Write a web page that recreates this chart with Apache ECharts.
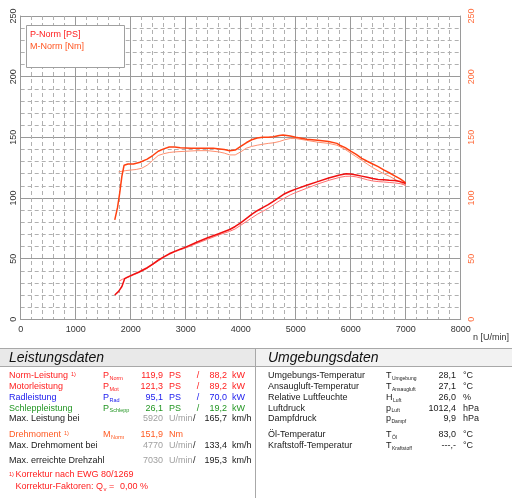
<!DOCTYPE html>
<html><head><meta charset="utf-8">
<script src="https://cdn.jsdelivr.net/npm/echarts@6/dist/echarts.min.js"></script>
<style>html,body{margin:0;padding:0;background:#fff}#c{width:512px;height:498px}</style>
</head><body><div id="c"></div>
<script>
// ---- chart data ----
var xTicks = [0,1000,2000,3000,4000,5000,6000,7000,8000];
var yTicks = [0,50,100,150,200,250];

var rpmTorqueMain = [1710,1760,1800,1840,1880,1950,2050,2170,2300,2400,2500,2600,2700,2800,2900,3100,3300,3500,3700,3800,3900,4000,4100,4200,4300,4400,4500,4600,4700,4770,4900,5000,5200,5400,5600,5750,5800,5900,6000,6100,6200,6300,6400,6500,6600,6700,6800,6900,7000];
var torqueMain    = [82,92,104,118,127,128,128,129.5,132,135,138.5,140.5,142,142,141.5,141,141,141,140,139,139.5,142.5,145.5,148,149.5,150,150,150.5,151.5,151.9,151,150,148.5,147.5,146.5,145,143.5,141.5,138.7,136,132.7,130.3,128,125.8,123.2,120.8,118.2,115.7,112.5];

var rpmTorqueThin = [1780,1900,2000,2100,2200,2300,2400,2500,2600,2700,2800,3000,3200,3400,3600,3700,3800,3900,4000,4100,4200,4300,4400,4500,4600,4700,4800,4900,5000,5200,5400,5600,5750,5900,6000,6100,6200,6300,6400,6500,6600,6700,6800,6900,7000];
var torqueThin    = [121.5,122.5,123,123.5,124.5,127,131,135,136.5,137.5,138,138.5,139,139,138,137,135.5,135.5,138,141,142.5,143.5,144.3,145,145.5,146.5,148,149,149,147.5,146,145,143.5,140,137,134,131,128,125,122.5,120,118,115.5,113,110];

var rpmPowerMain = [1710,1780,1840,1890,1950,2050,2150,2300,2400,2500,2600,2700,2800,2900,3000,3200,3400,3600,3800,3900,4000,4100,4200,4300,4400,4500,4600,4700,4800,4900,5000,5200,5400,5600,5800,5920,6000,6100,6200,6300,6400,6500,6600,6700,6800,6900,7000];
var powerMain    = [20,23,27,33.5,35,37,39,42.5,45.5,48.8,51.5,54,56,57.8,59.5,63.5,67.2,70.5,74,76.5,79.5,83,86.5,89.5,92,94.5,97.5,100.5,103.5,105.5,107.3,110.5,113.5,116.5,119,119.9,119.8,119,118,117,116,115.3,115,114.6,114.4,113.5,112];

var rpmPowerThin = [1790,1850,1950,2050,2150,2300,2400,2500,2600,2700,2800,2900,3000,3200,3400,3600,3800,3900,4000,4100,4200,4300,4400,4500,4600,4700,4800,4900,5000,5200,5400,5600,5800,5900,6000,6100,6200,6300,6400,6500,6600,6700,6800,6900,7000];
var powerThin    = [31.5,33,34.5,36.5,38.5,42,45,48,51,53.5,55.5,57.3,58.8,62.5,66,69.5,72.5,74.5,77.5,80.5,83.5,86.5,89,91.5,94.5,97.5,100,102.5,104.5,108,111.5,114.5,117,117.8,118,117.4,116.3,115,114,113.5,113.2,112.8,112.4,111.8,110.5];

var legendLabels = ['P-Norm [PS]','M-Norm [Nm]'];
var xAxisName = 'n [U/min]';

// ---- table data ----
var leistungTitle = 'Leistungsdaten';
var umgebungTitle = 'Umgebungsdaten';
var leistungLabels = ['Norm-Leistung','Motorleistung','Radleistung','Schleppleistung'];
var leistungSym = ['P','P','P','P'];
var leistungSub = ['Norm','Mot','Rad','Schlepp'];
var leistungPS = ['119,9','121,3','95,1','26,1'];
var leistungKW = ['88,2','89,2','70,0','19,2'];
var maxRows = ['Max. Leistung bei','Max. Drehmoment bei','Max. erreichte Drehzahl'];
var maxRpm = ['5920','4770','7030'];
var maxKmh = ['165,7','133,4','195,3'];
var torqueLabel = 'Drehmoment';
var torqueValue = '151,9';
var korrText1 = 'Korrektur nach EWG 80/1269';
var korrText2 = 'Korrektur-Faktoren: Q';
var korrValue = '0,00 %';

var umgLabels = ['Umgebungs-Temperatur','Ansaugluft-Temperatur','Relative Luftfeuchte','Luftdruck','Dampfdruck','Öl-Temperatur','Kraftstoff-Temperatur'];
var umgSym = ['T','T','H','p','p','T','T'];
var umgSub = ['Umgebung','Ansaugluft','Luft','Luft','Dampf','Öl','Kraftstoff'];
var umgValues = ['28,1','27,1','26,0','1012,4','9,9','83,0','---,-'];
var umgUnits = ['°C','°C','%','hPa','hPa','°C','°C'];

function pairs(xs, ys){ return xs.map(function(x,i){ return [x, ys[i]]; }); }

var FONT = '"Liberation Sans", Arial, sans-serif';
var mctx = document.createElement('canvas').getContext('2d');
function tw(s,size,extra){ mctx.font=(extra||'')+' '+size+'px '+FONT; return mctx.measureText(s).width; }
var g = [];
function txt(x,y,s,color,size,align,extra){
  var st = {x:x,y:y,text:s,fill:color||'#1a1a1a',font:(extra||'')+' '+(size||9)+'px '+FONT,textAlign:align||'left',textVerticalAlign:'middle'};
  g.push({type:'text',silent:true,z:100,style:st});
}

// legend box
g.push({type:'rect',z:99,shape:{x:26.5,y:25.5,width:98,height:42},style:{fill:'#fff',stroke:'#a0a0a0',lineWidth:1}});
txt(30,34.5,legendLabels[0],'#ff2020',9);
txt(30,46.5,legendLabels[1],'#ff5522',9);
txt(473,338,xAxisName,'#333',9);

// table frame
g.push({type:'rect',z:98,shape:{x:0,y:348.5,width:255,height:18},style:{fill:'#e9e9e9',stroke:null}});
g.push({type:'rect',z:98,shape:{x:256,y:348.5,width:256,height:18},style:{fill:'#f2f2f2',stroke:null}});
g.push({type:'line',z:99,shape:{x1:0,y1:348.5,x2:512,y2:348.5},style:{stroke:'#a8a8a8',lineWidth:1}});
g.push({type:'line',z:99,shape:{x1:0,y1:366.5,x2:512,y2:366.5},style:{stroke:'#a8a8a8',lineWidth:1}});
g.push({type:'line',z:99,shape:{x1:255.5,y1:348.5,x2:255.5,y2:498},style:{stroke:'#a8a8a8',lineWidth:1}});
txt(9,358,leistungTitle,'#111',14,'left','italic');
txt(268,358,umgebungTitle,'#111',14,'left','italic');

// left table
var rowY = [376,387,397.7,408.3];
var rowC = ['#ff2020','#ff2020','#2020ee','#239623'];
for (var i=0;i<4;i++){
  var y=rowY[i], c=rowC[i];
  txt(9,y,leistungLabels[i],c,9);
  txt(103,y,leistungSym[i],c,9);
  txt(103+tw(leistungSym[i],9)+0.5,y+2.5,leistungSub[i],c,5.5);
  txt(163,y,leistungPS[i],c,9,'right');
  txt(169,y,'PS',c,9);
  txt(198,y,'/',c,9,'center');
  txt(227,y,leistungKW[i],c,9,'right');
  txt(232,y,'kW',c,9);
}
txt(9+tw(leistungLabels[0],9)+3,374.5,'1)','#ff2020',5.5);
var maxY = [419,445.5,461];
for (var j=0;j<3;j++){
  var yy=maxY[j];
  txt(9,yy,maxRows[j],'#1a1a1a',9);
  txt(163,yy,maxRpm[j],'#a0a0a0',9,'right');
  txt(169,yy,'U/min','#a0a0a0',9);
  txt(193,yy,'/','#1a1a1a',9);
  txt(227,yy,maxKmh[j],'#1a1a1a',9,'right');
  txt(232,yy,'km/h','#1a1a1a',9);
}
txt(9,435,torqueLabel,'#ff5a22',9);
txt(9+tw(torqueLabel,9)+3,433.5,'1)','#ff5a22',5.5);
txt(103,435,'M','#ff5a22',9);
txt(103+tw('M',9)+0.5,437.5,'Norm','#ff5a22',5.5);
txt(163,435,torqueValue,'#ff5a22',9,'right');
txt(169,435,'Nm','#ff5a22',9);
txt(9,474.5,'1)','#ff2020',5.5);
txt(15.5,475,korrText1,'#ff2020',9);
txt(15.5,486.5,korrText2,'#ff2020',9);
var qEnd = 15.5+tw(korrText2,9);
txt(qEnd+0.5,489,'v','#ff2020',6);
txt(qEnd+6,486.5,'=','#ff2020',9);
txt(148,486.5,korrValue,'#ff2020',9,'right');

// right table
var umgY = [376,387,397.7,408.3,419,435,445.7];
for (var k=0;k<7;k++){
  var y2=umgY[k];
  txt(268,y2,umgLabels[k],'#1a1a1a',9);
  txt(386,y2,umgSym[k],'#1a1a1a',9);
  txt(386+tw(umgSym[k],9)+0.5,y2+2.5,umgSub[k],'#1a1a1a',5);
  txt(456,y2,umgValues[k],'#1a1a1a',9,'right');
  txt(463,y2,umgUnits[k],'#1a1a1a',9);
}

var gridLine = {color:'#9a9a9a',width:1};
var minorLine = {color:'#b0b0b0',width:1,type:[4,3]};
var chart = echarts.init(document.getElementById('c'),null,{renderer:'canvas'});
chart.setOption({
  animation:false,
  backgroundColor:'#fff',
  grid:{left:20.7,top:16,right:51.3,bottom:178.7,outerBoundsMode:'none'},
  xAxis:{type:'value',min:xTicks[0],max:xTicks[xTicks.length-1],interval:xTicks[1]-xTicks[0],
    axisLine:{show:true,lineStyle:gridLine},axisTick:{show:false},
    axisLabel:{color:'#333',fontSize:9,fontFamily:FONT,margin:6,formatter:function(v){return String(v);}},
    splitLine:{show:true,lineStyle:gridLine},
    minorTick:{show:false,splitNumber:5},
    minorSplitLine:{show:true,lineStyle:minorLine}},
  yAxis:[
    {type:'value',min:yTicks[0],max:yTicks[yTicks.length-1],interval:yTicks[1]-yTicks[0],
     axisLine:{show:true,lineStyle:gridLine},axisTick:{show:false},
     axisLabel:{color:'#333',fontSize:9,fontFamily:FONT,rotate:90,margin:3},
     splitLine:{show:true,lineStyle:gridLine},
     minorTick:{show:false,splitNumber:5},
     minorSplitLine:{show:true,lineStyle:minorLine}},
    {type:'value',position:'right',min:yTicks[0],max:yTicks[yTicks.length-1],interval:yTicks[1]-yTicks[0],
     axisLine:{show:true,lineStyle:gridLine},axisTick:{show:false},
     axisLabel:{color:'#ff6a3a',fontSize:9,fontFamily:FONT,rotate:90,margin:6},
     splitLine:{show:false}}
  ],
  series:[
    {type:'line',name:'M-Norm thin',yAxisIndex:1,data:pairs(rpmTorqueThin,torqueThin),showSymbol:false,symbol:'none',lineStyle:{color:'#ff9070',width:1}},
    {type:'line',name:'P-Norm thin',data:pairs(rpmPowerThin,powerThin),showSymbol:false,symbol:'none',lineStyle:{color:'#ff7070',width:1}},
    {type:'line',name:legendLabels[1],yAxisIndex:1,data:pairs(rpmTorqueMain,torqueMain),showSymbol:false,symbol:'none',lineStyle:{color:'#ff4010',width:1.5}},
    {type:'line',name:legendLabels[0],data:pairs(rpmPowerMain,powerMain),showSymbol:false,symbol:'none',lineStyle:{color:'#f01010',width:1.5}}
  ],
  graphic:g
});
</script></body></html>
